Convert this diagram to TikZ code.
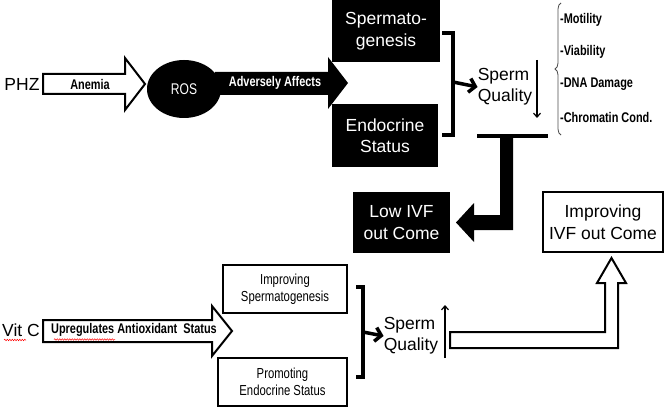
\documentclass[tikz,border=0pt]{standalone}
\usepackage{fontspec}
\setmainfont{Liberation Sans}
\newfontfamily\narrowfont[FakeStretch=0.78]{Liberation Sans}

\usetikzlibrary{shapes.geometric,arrows.meta,decorations.pathreplacing,decorations.pathmorphing}

\begin{document}
\begin{tikzpicture}[x=1pt,y=-1pt]
        \tikzstyle{every node}=[inner sep=0pt]
        \tikzstyle{blackbox}=[fill=black, text=white, align=center, font=\fontsize{17.5}{21.5}\selectfont]
        \tikzstyle{whitebox}=[draw, line width=2pt, fill=white, align=center]
        \tikzstyle{hollow}=[draw, line width=2pt, fill=white]
        \tikzstyle{bigtext}=[font=\fontsize{17.5}{21}\selectfont, align=left]
        \tikzstyle{arrowlabel}=[font=\narrowfont\bfseries\fontsize{14}{16}\selectfont]
        \tikzstyle{listitem}=[anchor=west, font=\narrowfont\bfseries\fontsize{14}{16}\selectfont]
        \tikzstyle{bracket}=[line width=3.5pt]
        \tikzstyle{thick arrow}=[line width=3.5pt, -{Straight Barb[length=6pt,width=14pt]}]
        \tikzstyle{thin arrow}=[line width=1.2pt, -{Straight Barb[length=4pt,width=7pt]}]
        \tikzstyle{spell}=[red, line width=0.5pt, decorate, decoration={snake, amplitude=0.7pt, segment length=2.5pt}]
        \useasboundingbox (0,0) rectangle (672,409);

        % PHZ path
        \node[bigtext] (phz) at (22,84) {PHZ};
        \draw[hollow] (43,74) -- (125,74) -- (125,58) -- (145,84) -- (125,110) -- (125,94) -- (43,94) -- cycle;
        \node[arrowlabel] (anemia) at (90,84) {Anemia};
        \fill (215,72) -- (328,72) -- (328,57) -- (348,83) -- (328,109) -- (328,95) -- (215,95) -- cycle;
        \node[ellipse, fill=black, minimum width=74, minimum height=58, text=white,
              font=\narrowfont\fontsize{15.5}{17}\selectfont] (ros) at (184,89) {ROS};
        \node[arrowlabel, text=white] (adverse) at (275,83) {Adversely Affects};
        \node[blackbox, minimum width=108, minimum height=62] (spermato) at (386,31) {Spermato-\\genesis};
        \node[blackbox, minimum width=106, minimum height=63] (endo) at (385,135.5) {Endocrine\\Status};
        \draw[bracket] (442,33) -- (453,33) -- (453,135) -- (442,135);
        \coordinate (b1) at (453,82);
        \node[bigtext] (sq1) at (505,87) {Sperm\\Quality};
        \draw[thick arrow] (b1) -- (sq1.west);
        \draw[thin arrow] (537,60) -- (537,118);
        \draw[black!70, line width=0.8pt, decorate, decoration={brace, amplitude=6pt}] (561,135) -- (561,3);
        \node[listitem] (motility) at (560,20) {-Motility};
        \node[listitem] (viability) at (560,52) {-Viability};
        \node[listitem] (dna) at (560,84) {-DNA Damage};
        \node[listitem] (chromatin) at (560,117) {-Chromatin Cond.};
        \draw[bracket] (477,136) -- (548,136);
        \fill (500,136) -- (513,136) -- (513,230) -- (474,230) -- (474,242) -- (456,222.5) -- (474,203) -- (474,215) -- (500,215) -- cycle;
        \node[blackbox, minimum width=97, minimum height=61] (lowivf) at (401.5,222.5) {Low IVF\\out Come};

        % Vit C path
        \node[whitebox, minimum width=120, minimum height=60, font=\fontsize{17.5}{21.5}\selectfont] (impivf) at (603,222) {Improving\\IVF out Come};
        \node[bigtext] (vitc) at (21,330) {Vit C};
        \draw[spell] (4,340) -- (26,340);
        \draw[hollow] (43,320) -- (212,320) -- (212,306) -- (232,331) -- (212,356) -- (212,342) -- (43,342) -- cycle;
        \node[arrowlabel] (upreg) at (134,330) {Upregulates Antioxidant\ \ Status};
        \draw[spell] (54,339.5) -- (115,339.5);
        \node[whitebox, minimum width=124, minimum height=48, font=\narrowfont\fontsize{14.5}{17}\selectfont] (impspg) at (285,289) {Improving\\Spermatogenesis};
        \node[whitebox, minimum width=129, minimum height=48, font=\narrowfont\fontsize{14.5}{17}\selectfont] (promendo) at (282.5,382) {Promoting\\Endocrine Status};
        \draw[bracket] (356,287) -- (363,287) -- (363,377) -- (356,377);
        \coordinate (b2) at (363,332);
        \node[bigtext] (sq2) at (411,336) {Sperm\\Quality};
        \draw[thick arrow] (b2) -- (sq2.west);
        \draw[thin arrow] (445,358) -- (445,305);
        \draw[hollow] (450,332) -- (605,332) -- (605,283) -- (597,283) -- (611.5,258) -- (626,283) -- (618,283) -- (618,348) -- (450,348) -- cycle;
\end{tikzpicture}
\end{document}
